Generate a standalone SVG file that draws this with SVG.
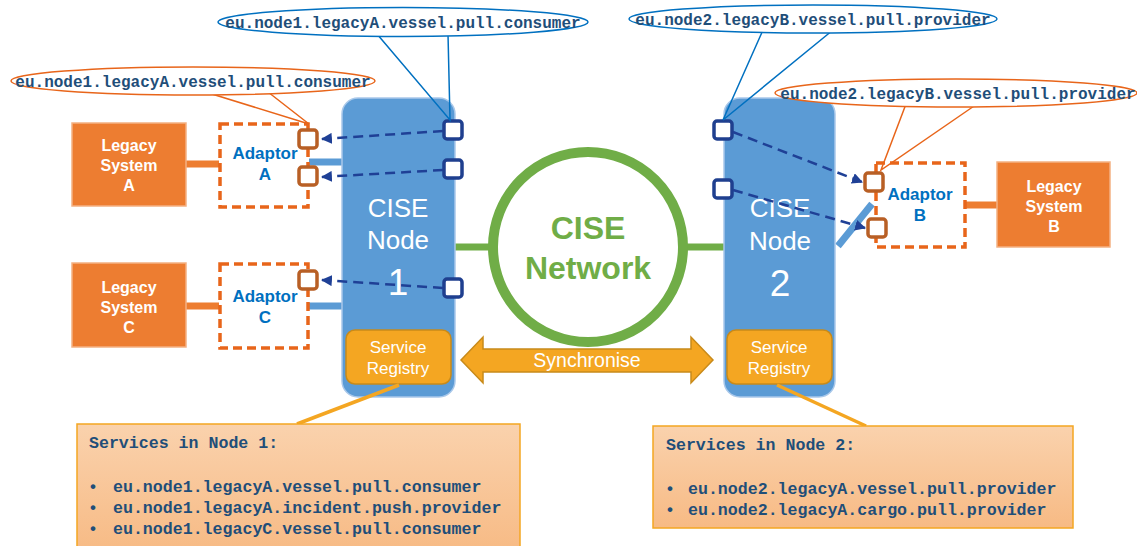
<svg xmlns="http://www.w3.org/2000/svg" width="1137" height="546" viewBox="0 0 1137 546">
<style>
.sans{font-family:"Liberation Sans",Arial,sans-serif}
.mono{font-family:"Liberation Mono","DejaVu Sans Mono",monospace;font-weight:bold;fill:#1F4E79}
.legacy{fill:#ED7D31;stroke:#F4B183;stroke-width:1.5}
.legtxt{font-family:"Liberation Sans",Arial,sans-serif;font-weight:bold;font-size:16px;fill:#fff;text-anchor:middle}
.adapt{fill:#fff;stroke:#E8651A;stroke-width:3.5;stroke-dasharray:9 5}
.adtxt{font-family:"Liberation Sans",Arial,sans-serif;font-weight:bold;font-size:17px;fill:#0070C0;text-anchor:middle}
.node{fill:#5B9BD5;stroke:#A9C8EA;stroke-width:1.5}
.nodetxt{font-family:"Liberation Sans",Arial,sans-serif;fill:#fff;text-anchor:middle}
.reg{fill:#F4A622;stroke:#C88A1A;stroke-width:1.5}
.port{fill:#fff;stroke:#1F3F8F;stroke-width:3.5}
.aport{fill:#fff;stroke:#B85F25;stroke-width:3.5}
.flow{fill:none;stroke:#1F4096;stroke-width:2.5;stroke-dasharray:10 6}
.olink{stroke:#ED7D31;stroke-width:7}
.blink{stroke:#5B9BD5;stroke-width:7}
.glink{stroke:#70AD47;stroke-width:7}
.cb{fill:#fff;stroke:#0070C0;stroke-width:1.5}
.co{fill:#fff;stroke:#E8651A;stroke-width:1.5}
.ptb{fill:none;stroke:#0070C0;stroke-width:1.5}
.pto{fill:none;stroke:#E8651A;stroke-width:1.5}
.box{fill:url(#bg);stroke:#F4A622;stroke-width:1.5}
.lead{stroke:#F4A622;stroke-width:3.5}
</style>
<defs>
<marker id="ah" viewBox="0 0 10 10" refX="9" refY="5" markerWidth="11" markerHeight="11" markerUnits="userSpaceOnUse" orient="auto">
<path d="M0,0 L10,5 L0,10 z" fill="#1F4096"/>
</marker>
<linearGradient id="bg" x1="0" y1="0" x2="0" y2="1">
<stop offset="0" stop-color="#FAD2AD"/>
<stop offset="1" stop-color="#F7BA84"/>
</linearGradient>
</defs>
<rect width="1137" height="546" fill="#fff"/>

<g id="links">
<line class="olink" x1="185" y1="164" x2="219" y2="164"/>
<line class="olink" x1="185" y1="306" x2="219" y2="306"/>
<line class="olink" x1="965" y1="205" x2="997" y2="205"/>
<line class="blink" x1="309" y1="162" x2="343" y2="162"/>
<line class="blink" x1="309" y1="306" x2="343" y2="306"/>
<line class="blink" x1="838" y1="246" x2="872" y2="204" stroke-width="8"/>
<line class="glink" x1="455" y1="247" x2="494" y2="247"/>
<line class="glink" x1="682" y1="247" x2="725" y2="247"/>
</g>

<g id="legacyA"><rect class="legacy" x="72" y="123" width="114" height="83"/>
<text class="legtxt" x="129" y="151">Legacy</text><text class="legtxt" x="129" y="171">System</text><text class="legtxt" x="129" y="191">A</text></g>
<g id="legacyC"><rect class="legacy" x="72" y="263" width="114" height="84"/>
<text class="legtxt" x="129" y="293">Legacy</text><text class="legtxt" x="129" y="313">System</text><text class="legtxt" x="129" y="333">C</text></g>
<g id="legacyB"><rect class="legacy" x="997" y="162" width="113" height="85"/>
<text class="legtxt" x="1054" y="192">Legacy</text><text class="legtxt" x="1054" y="212">System</text><text class="legtxt" x="1054" y="232">B</text></g>

<g id="adaptorA"><rect class="adapt" x="220" y="124" width="88" height="83"/>
<text class="adtxt" x="265" y="159">Adaptor</text><text class="adtxt" x="265" y="180">A</text></g>
<g id="adaptorC"><rect class="adapt" x="220" y="264" width="88" height="84"/>
<text class="adtxt" x="265" y="302">Adaptor</text><text class="adtxt" x="265" y="323">C</text></g>
<g id="adaptorB"><rect class="adapt" x="876" y="163" width="89" height="84"/>
<text class="adtxt" x="920" y="200">Adaptor</text><text class="adtxt" x="920" y="221">B</text></g>

<g id="node1"><rect class="node" x="342" y="98" width="113" height="299" rx="16"/>
<text class="nodetxt" x="398" y="217" font-size="26">CISE</text>
<text class="nodetxt" x="398" y="249" font-size="26">Node</text>
<text class="nodetxt" x="398" y="295" font-size="37">1</text></g>
<g id="registry1"><rect class="reg" x="346" y="330" width="105" height="54" rx="9"/>
<text class="nodetxt" x="398" y="353" font-size="17">Service</text>
<text class="nodetxt" x="398" y="374" font-size="17">Registry</text></g>

<g id="node2"><rect class="node" x="724" y="98" width="111" height="299" rx="16"/>
<text class="nodetxt" x="780" y="217" font-size="26">CISE</text>
<text class="nodetxt" x="780" y="250" font-size="26">Node</text>
<text class="nodetxt" x="780" y="296" font-size="37">2</text></g>
<g id="registry2"><rect class="reg" x="727" y="330" width="105" height="54" rx="9"/>
<text class="nodetxt" x="779" y="353" font-size="17">Service</text>
<text class="nodetxt" x="779" y="374" font-size="17">Registry</text></g>

<g id="network"><circle cx="588" cy="247" r="95" fill="#fff" stroke="#70AD47" stroke-width="10"/>
<text x="588" y="239" text-anchor="middle" class="sans" font-weight="bold" font-size="32" fill="#70AD47">CISE</text>
<text x="588" y="279" text-anchor="middle" class="sans" font-weight="bold" font-size="32" fill="#70AD47">Network</text></g>

<g id="synchronise"><polygon points="461,360 483,337 483,349 691,349 691,337 713,360 691,383 691,372 483,372 483,383" fill="#F4A622" stroke="#C88A1A" stroke-width="1.5"/>
<text x="587" y="367" text-anchor="middle" class="sans" font-size="19.5" fill="#fff">Synchronise</text></g>

<g id="ports">
<rect class="port" x="444" y="121" width="18" height="18" rx="3"/>
<rect class="port" x="444" y="160" width="18" height="18" rx="3"/>
<rect class="port" x="444" y="279" width="18" height="18" rx="3"/>
<rect class="port" x="714" y="121" width="18" height="18" rx="3"/>
<rect class="port" x="714" y="180" width="18" height="18" rx="3"/>
<rect class="aport" x="299" y="130" width="18" height="18" rx="3"/>
<rect class="aport" x="299" y="167" width="18" height="18" rx="3"/>
<rect class="aport" x="299" y="271" width="18" height="18" rx="3"/>
<rect class="aport" x="865" y="173" width="18" height="18" rx="3"/>
<rect class="aport" x="868" y="219" width="18" height="18" rx="3"/>
</g>

<g id="connectors">
<line class="flow" x1="443" y1="131" x2="322" y2="139" marker-end="url(#ah)"/>
<line class="flow" x1="443" y1="170" x2="322" y2="177" marker-end="url(#ah)"/>
<line class="flow" x1="443" y1="288" x2="322" y2="280" marker-end="url(#ah)"/>
<line class="flow" x1="733" y1="132" x2="862" y2="182" marker-end="url(#ah)"/>
<line class="flow" x1="733" y1="190" x2="865" y2="228" marker-end="url(#ah)"/>
<line class="lead" x1="399" y1="385" x2="297" y2="424"/>
<line class="lead" x1="777" y1="385" x2="866" y2="426"/>
</g>

<g id="callout1">
<polyline class="ptb" points="377,34 450,120 448,34"/>
<ellipse class="cb" cx="403" cy="22" rx="185" ry="14.5"/>
<text class="mono" x="403" y="28" text-anchor="middle" font-size="16">eu.node1.legacyA.vessel.pull.consumer</text>
</g>
<g id="callout2">
<polyline class="pto" points="199,90 309,124 268,92"/>
<ellipse class="co" cx="193" cy="81" rx="182" ry="14"/>
<text class="mono" x="193" y="87" text-anchor="middle" font-size="16">eu.node1.legacyA.vessel.pull.consumer</text>
</g>
<g id="callout3">
<polyline class="ptb" points="763,30 723,120 833,30"/>
<ellipse class="cb" cx="813" cy="19" rx="184" ry="14"/>
<text class="mono" x="813" y="25" text-anchor="middle" font-size="16">eu.node2.legacyB.vessel.pull.provider</text>
</g>
<g id="callout4">
<polyline class="pto" points="906,104 881,170 977,104"/>
<ellipse class="co" cx="956" cy="93" rx="181" ry="14"/>
<text class="mono" x="958" y="99" text-anchor="middle" font-size="16">eu.node2.legacyB.vessel.pull.provider</text>
</g>

<g id="services1"><rect class="box" x="77" y="424" width="443" height="130"/>
<text class="mono" x="89" y="448" font-size="16.6">Services in Node 1:</text>
<text class="mono" x="88" y="492" font-size="16.6">•</text><text class="mono" x="113" y="492" font-size="16.6">eu.node1.legacyA.vessel.pull.consumer</text>
<text class="mono" x="88" y="513" font-size="16.6">•</text><text class="mono" x="113" y="513" font-size="16.6">eu.node1.legacyA.incident.push.provider</text>
<text class="mono" x="88" y="534" font-size="16.6">•</text><text class="mono" x="113" y="534" font-size="16.6">eu.node1.legacyC.vessel.pull.consumer</text></g>

<g id="services2"><rect class="box" x="653" y="426" width="420" height="102"/>
<text class="mono" x="666" y="450" font-size="16.6">Services in Node 2:</text>
<text class="mono" x="665" y="494" font-size="16.6">•</text><text class="mono" x="688" y="494" font-size="16.6">eu.node2.legacyA.vessel.pull.provider</text>
<text class="mono" x="665" y="515" font-size="16.6">•</text><text class="mono" x="688" y="515" font-size="16.6">eu.node2.legacyA.cargo.pull.provider</text></g>
</svg>
